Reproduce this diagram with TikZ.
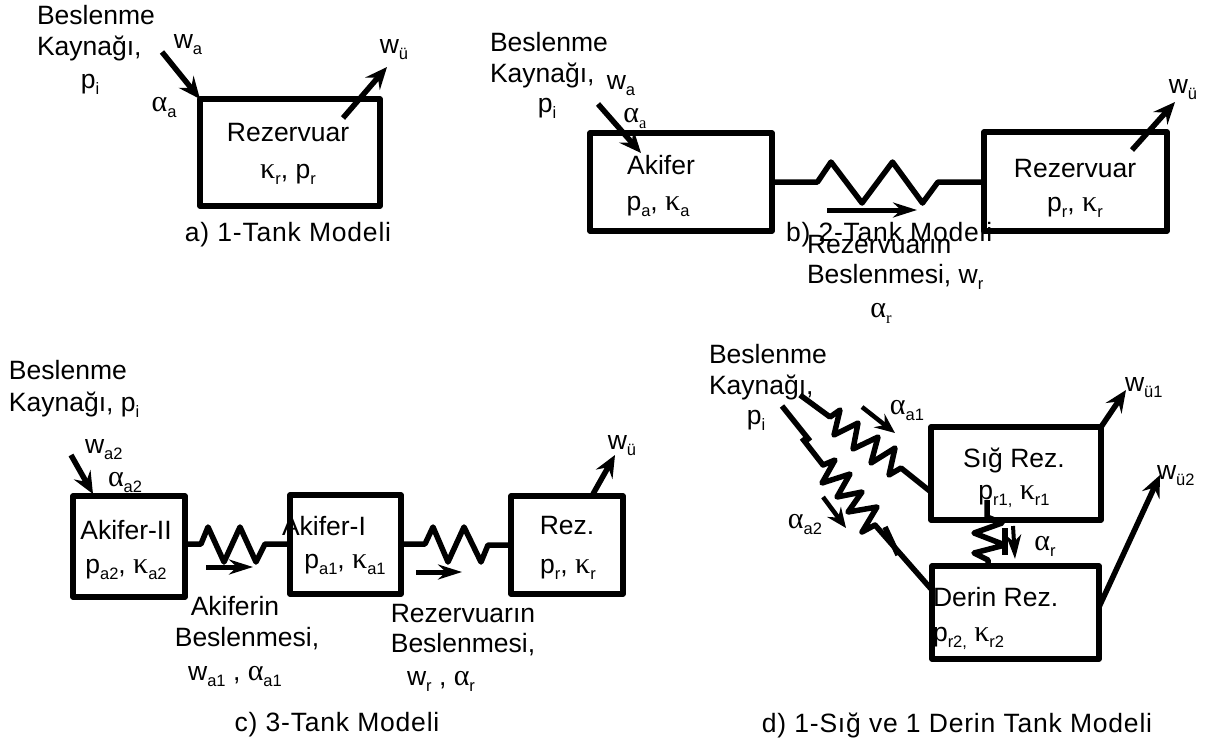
\documentclass[tikz,border=0pt]{standalone}
\usepackage{fontspec}
\usetikzlibrary{arrows.meta}
\setmainfont{Liberation Sans}
\newfontfamily\gkfont{Liberation Serif}
\newfontfamily\spacedfont[LetterSpace=3]{Liberation Sans}
\newcommand{\sbs}[1]{\raisebox{-0.22em}{\fontsize{16.5}{16.5}\selectfont #1}}
\newcommand{\sbg}[1]{\raisebox{-0.22em}{\fontsize{16.5}{16.5}\gkfont #1}}
\newcommand{\gal}{{\fontsize{30}{30}\gkfont α}}
\newcommand{\gka}{{\fontsize{30}{30}\gkfont κ}}
\tikzset{
  txt/.style={inner sep=0pt,outer sep=0pt,text height=19pt,text depth=5.6pt,font=\fontsize{26.5}{30}\selectfont},
  ctxt/.style={txt,text depth=0pt},
  ltxt/.style={txt,anchor=west},
  lctxt/.style={ctxt,anchor=west},
  tank/.style={draw=black,line width=5.5pt,line join=round,inner sep=0pt,outer sep=0pt,fill=none},
  wire/.style={draw=black,line width=5.5pt,line join=round},
  flow/.style={draw=black,line width=5.5pt,-{Stealth[length=22pt,width=19pt,inset=8pt]}},
  hflow/.style={draw=black,line width=5pt,-{Stealth[length=24pt,width=15pt,inset=8pt]}},
  rate/.style={draw=black,line width=4.5pt,-{Stealth[length=20pt,width=17pt,inset=7pt]}},
  vrate/.style={draw=black,line width=4pt,-{Stealth[length=24pt,width=15pt,inset=7pt]}},
}
\newcommand{\tankbox}[5]{%
  \node[tank,minimum width={#4-#2},minimum height={#5-#3}] (#1) at ({(#2+#4)/2},{(#3+#5)/2}) {};}
\begin{document}
\begin{tikzpicture}[x=1pt,y=-1pt]
\useasboundingbox (0,0) rectangle (1206,742);
% ---- boxes
\tankbox{ra}{200}{99}{380}{206}
\tankbox{ab}{590}{133}{772}{231}
\tankbox{rb}{984}{132}{1167}{231}
\tankbox{a2}{73}{496}{185}{597}
\tankbox{a1}{290}{495}{401}{594}
\tankbox{rc}{511}{496}{623}{594}
\tankbox{sr}{931}{427}{1101}{520}
\tankbox{dr}{932}{566}{1099}{659}
% ---- panel a
\node[lctxt] (t1) at (37,15) {Beslenme};
\node[lctxt] (t2) at (37,46) {Kaynağı,};
\node[txt] (t3) at (90,82) {p\sbs{i}};
\node[txt] (t4) at (188,42) {w\sbs{a}};
\node[txt] (t5) at (164,105) {\gal\sbs{a}};
\node[txt] (t6) at (394,47) {w\sbs{ü}};
\node[ctxt] (t7) at (288,132) {Rezervuar};
\node[txt] (t8) at (288,172) {\gka\sbs{r}, p\sbs{r}};
\node[ctxt] (t9) at (288,232) {\spacedfont a) 1-Tank Modeli};
\coordinate (ia) at (162,52);
\coordinate (oa) at (343,118);
\coordinate (oat) at (387,67);
\draw[flow] (ia) -- (ra.north west);
\draw[flow] (oa) -- (oat);
% ---- panel b
\node[lctxt] (b1) at (490,42) {Beslenme};
\node[lctxt] (b2) at (490,73) {Kaynağı,};
\node[txt] (b3) at (547,106) {p\sbs{i}};
\node[txt] (b4) at (621,83) {w\sbs{a}};
\node[txt] (b5) at (635,116) {\gal\sbg{a}};
\node[ctxt] (b6) at (661,165) {Akifer};
\node[txt] (b7) at (658,204) {p\sbs{a}, \gka\sbs{a}};
\node[ctxt] (b8) at (1075,168) {Rezervuar};
\node[txt] (b9) at (1075,205) {p\sbs{r}, \gka\sbs{r}};
\node[txt] (b10) at (1183,87) {w\sbs{ü}};
\node[lctxt] (b11) at (786,232) {\spacedfont b) 2-Tank Modeli};
\node[lctxt] (b12) at (807,244) {Rezervuarın};
\node[lctxt] (b13) at (807,274) {Beslenmesi, w\sbs{r}};
\node[txt] (b14) at (881,311) {\gal\sbg{r}};
\coordinate (ib) at (598,104);
\coordinate (ibt) at (641,153);
\coordinate (ob) at (1132,150);
\coordinate (obt) at (1175,102);
\draw[flow] (ib) -- (ibt);
\draw[flow] (ob) -- (obt);
\draw[wire] (ab.east |- 0,182) -- (817.5,182) -- (831,162) -- (862,203) -- (892.5,162) -- (922.5,203) -- (938,182) -- (rb.west |- 0,182);
\coordinate (fb) at (827,210);
\coordinate (fbt) at (917,210);
\draw[hflow] (fb) -- (fbt);
% ---- panel c
\node[lctxt] (c1) at (9,370) {Beslenme};
\node[lctxt] (c2) at (9,402) {Kaynağı, p\sbs{i}};
\node[ltxt] (c3) at (85,447) {w\sbs{a2}};
\node[ltxt] (c4) at (108,480) {\gal\sbs{a2}};
\node[ctxt] (c5) at (126,530) {Akifer-II};
\node[txt] (c6) at (126,567) {p\sbs{a2}, \gka\sbs{a2}};
\node[lctxt] (c7) at (282,526) {Akifer-I};
\node[txt] (c8) at (345,562) {p\sbs{a1}, \gka\sbs{a1}};
\node[ctxt] (c9) at (567,525) {Rez.};
\node[txt] (c10) at (568,567) {p\sbs{r}, \gka\sbs{r}};
\node[txt] (c11) at (622,443) {w\sbs{ü}};
\node[ctxt] (c12) at (235,606) {Akiferin};
\node[ctxt] (c13) at (247,637) {Beslenmesi,};
\node[txt] (c14) at (235,674) {w\sbs{a1} , \gal\sbs{a1}};
\node[ctxt] (c15) at (463,613) {Rezervuarın};
\node[ctxt] (c16) at (463,643) {Beslenmesi,};
\node[txt] (c17) at (441,679) {w\sbs{r} , \gal\sbs{r}};
\node[ctxt] (c18) at (337,722) {\spacedfont c) 3-Tank Modeli};
\coordinate (ic) at (71,455);
\coordinate (ict) at (93,494);
\coordinate (oc) at (593,494);
\coordinate (oct) at (615,455);
\draw[flow] (ic) -- (ict);
\draw[flow] (oc) -- (oct);
\draw[wire] (a2.east |- 0,544) -- (201,544) -- (208,527) -- (224,562) -- (240,527) -- (256,562) -- (265,544) -- (a1.west |- 0,544);
\draw[wire] (a1.east |- 0,544) -- (425,544) -- (433,527) -- (448,562) -- (464,527) -- (481,562) -- (488,545) -- (rc.west |- 0,545);
\coordinate (fc1) at (206,567);
\coordinate (fc1t) at (253,567);
\coordinate (fc2) at (416,572);
\coordinate (fc2t) at (462,572);
\draw[hflow] (fc1) -- (fc1t);
\draw[hflow] (fc2) -- (fc2t);
% ---- panel d
\node[lctxt] (d1) at (709,354) {Beslenme};
\node[lctxt] (d2) at (709,385) {Kaynağı,};
\node[txt] (d3) at (756,418) {p\sbs{i}};
\node[txt] (d4) at (907,408) {\gal\sbs{a1}};
\node[txt] (d5) at (805,522) {\gal\sbs{a2}};
\node[ctxt] (d6) at (1014,458) {Sığ Rez.};
\node[txt] (d7) at (1014,493) {p\sbs{r1,} \gka\sbs{r1}};
\node[lctxt] (d8) at (933,597) {Derin Rez.};
\node[ltxt] (d9) at (933,635) {p\sbs{r2,} \gka\sbs{r2}};
\node[txt] (d10) at (1045,544) {\gal\sbs{r}};
\node[ltxt] (d11) at (1125,385) {w\sbs{ü1}};
\node[ltxt] (d12) at (1157,473) {w\sbs{ü2}};
\node[ctxt] (d13) at (957,723) {\spacedfont d) 1-Sığ ve 1 Derin Tank Modeli};
\coordinate (ss1) at (800,395);
\draw[wire] (ss1) -- (830,417) -- (840,410) -- (834,435) -- (858,423) -- (853,449) -- (878,437) -- (871,463) -- (895,448) -- (889,475) -- (901,468) -- (sr.west |- 0,492);
\coordinate (ss2) at (782,406);
\coordinate (ss2b) at (810,441);
\coordinate (ss2c) at (802,438);
\draw[wire] (ss2) -- (ss2b);
\draw[wire] (ss2c) -- (823,465) -- (835,460) -- (822,483) -- (850,474) -- (837,497) -- (862,492) -- (848,512) -- (877,507) -- (862,532) -- (875,525) -- (dr.west |- 0,590);
\coordinate (bar1) at (885,527);
\coordinate (bar2) at (898,555);
\draw[wire] (bar1) -- (bar2);
\coordinate (fa1) at (862,407);
\coordinate (fa1t) at (895,433);
\coordinate (fa2) at (823,497);
\coordinate (fa2t) at (846,528);
\draw[rate] (fa1) -- (fa1t);
\draw[rate] (fa2) -- (fa2t);
\coordinate (vs) at (987,500);
\draw[wire] (vs) -- (987,517) -- (1002,523) -- (974,533) -- (1005,545) -- (974,553) -- (988,560) -- (dr.north -| 988,0);
\coordinate (vb1) at (1005,528);
\coordinate (vb2) at (1005,555);
\draw[wire] (vb1) -- (vb2);
\coordinate (vr) at (1013,526);
\coordinate (vrt) at (1015,559);
\draw[vrate] (vr) -- (vrt);
\coordinate (od1t) at (1126,390);
\coordinate (od2t) at (1160,475);
\draw[flow] (sr.north east) -- (od1t);
\draw[flow] (dr.east |- 0,607) -- (od2t);
\end{tikzpicture}
\end{document}
